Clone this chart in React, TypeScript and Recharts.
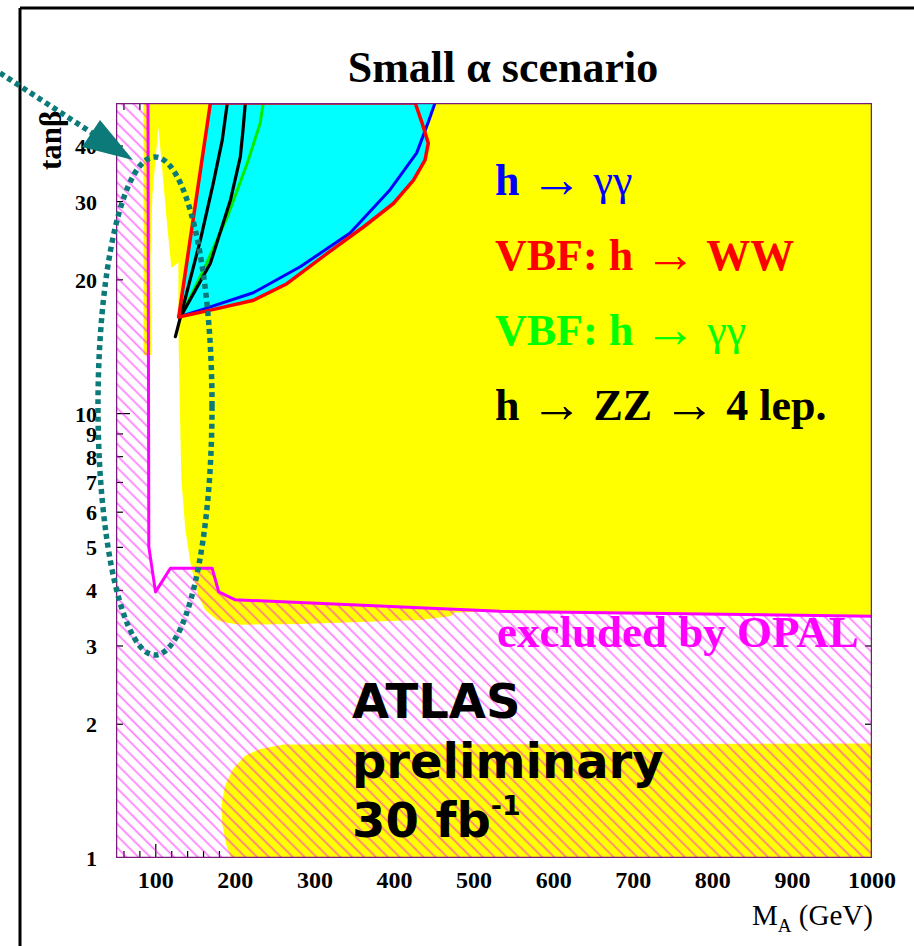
import React from 'react';
import { ScatterChart, Scatter, XAxis, YAxis } from 'recharts';

// every region / contour is a list of [M_A (GeV), tan beta] vertices
type Pt = [number, number];

const massTicks = [100, 200, 300, 400, 500, 600, 700, 800, 900, 1000];
const tanbTicks = [1, 2, 3, 4, 5, 6, 7, 8, 9, 10, 20, 30, 40];

const massMarks = [
  60, 80, 100, 120, 140, 160, 180, 200, 220, 240, 260, 280, 300, 320, 340, 360, 380, 400,
  420, 440, 460, 480, 500, 520, 540, 560, 580, 600, 620, 640, 660, 680, 700, 720, 740, 760,
  780, 800, 820, 840, 860, 880, 900, 920, 940, 960, 980,
];
const tanbMarks = [2, 3, 4, 5, 6, 7, 8, 9, 10, 20, 30, 40];

// yellow: discovery region (upper part)
const yellowMain: Pt[] = [
  [84.5, 50], [1000, 50], [1000, 3.5], [532, 3.59], [476, 3.57], [469.7, 3.5], [432, 3.43],
  [281.5, 3.36], [206.2, 3.35], [187.4, 3.39], [177, 3.43], [162.3, 3.61], [153.5, 3.87],
  [143.5, 4.61], [137.2, 5.47], [132.2, 7.09], [130, 10.73], [128.4, 15.42], [128.4, 21.9],
  [119.6, 21.27], [114.6, 26.2], [103.3, 44.2], [95.8, 31.0], [93.3, 22.2], [94.5, 13.55],
  [84.5, 13.55],
];

// yellow: low tan beta band
const yellowLow: Pt[] = [
  [1000, 1.81], [260.2, 1.8], [231.3, 1.76], [212.5, 1.7], [197.4, 1.59], [187.4, 1.46],
  [182.4, 1.32], [183.6, 1.19], [188.6, 1.07], [194.9, 1.0], [1000, 1.0],
];

// VBF h -> WW contour (red) and the cyan region it encloses
const vbfWW: Pt[] = [
  [128.8, 16.5], [168.6, 50], [426, 50], [434, 45.4], [442.5, 40.6], [438.3, 37.2],
  [423.6, 33.5], [398.6, 29.7], [360.9, 26.3], [315, 22.9], [264.8, 19.6], [222.9, 18.0],
  [168.6, 17.1],
];
const cyanArea: Pt[] = [
  [128.8, 16.5], [168.6, 50], [451, 50], [442.1, 45.1], [438, 43], [442.5, 40.6],
  [438.3, 37.2], [423.6, 33.5], [398.6, 29.7], [360.9, 26.3], [315, 22.9], [264.8, 19.6],
  [222.9, 18.0], [168.6, 17.1],
];

const hGG: Pt[] = [
  [128.4, 16.5], [156, 17.1], [222.5, 18.7], [281.5, 21.4], [344.2, 25.5], [394.4, 31.9],
  [427.9, 38.6], [442.1, 45.1], [450.9, 50],
];
const vbfGG: Pt[] = [[131, 16.5], [159.8, 21.0], [189.9, 27.7], [215, 36.6], [231.3, 45.1], [235, 50]];
const zz4lA: Pt[] = [[124.7, 14.9], [156, 24.6], [172.3, 33.0], [183.6, 41.3], [189.9, 50]];
const zz4lB: Pt[] = [[131, 16.5], [168.6, 21.8], [193.7, 30.2], [206.2, 37.8], [210, 44.2], [212.5, 50]];

// LEP (OPAL) exclusion boundary and the hatched excluded region
const opalLine: Pt[] = [
  [90.2, 50], [91.2, 5.02], [99.6, 3.97], [118.4, 4.49], [170.7, 4.49], [179, 3.97],
  [199.9, 3.81], [532.4, 3.59], [1000, 3.5],
];
const opalArea: Pt[] = [[50, 1], [50, 50], ...opalLine, [1000, 1]];

const frame: Pt[] = [[50, 1], [50, 50], [1000, 50], [1000, 1]];

const rows = (pts: Pt[]) => pts.map(([x, y]) => ({ x, y }));

const tickRows = [
  ...massMarks.map((x) => ({ x, y: 1, dir: 'up', major: x % 100 === 0 })),
  ...massMarks.map((x) => ({ x, y: 50, dir: 'down', major: x % 100 === 0 })),
  ...tanbMarks.map((y) => ({ x: 50, y, dir: 'right', major: y === 10 })),
  ...tanbMarks.map((y) => ({ x: 1000, y, dir: 'left', major: y === 10 })),
];

const SERIF = '"Liberation Serif", "Times New Roman", serif';
const SANS = '"DejaVu Sans", Verdana, sans-serif';
const TEAL = '#0b7a78';

const noSymbol = () => <g />;

const TickMark = (p: any) => {
  const { cx, cy, payload } = p;
  const len = payload.major ? 14 : 7;
  const d: Record<string, [number, number]> = {
    up: [0, -len], down: [0, len], right: [len, 0], left: [-len, 0],
  };
  const [dx, dy] = d[payload.dir];
  return <line x1={cx} y1={cy} x2={cx + dx} y2={cy + dy} stroke="#000" strokeWidth={1.2} />;
};

// draws the scatter points joined as a path, optionally closed and filled
const pathOf = (fill: string, stroke: string, width: number, closed: boolean) => (props: any) => {
  const pts: { x: number; y: number }[] = props.points || [];
  const d =
    pts.map((q, i) => `${i ? 'L' : 'M'}${q.x.toFixed(1)},${q.y.toFixed(1)}`).join(' ') +
    (closed ? ' Z' : '');
  return (
    <path d={d} fill={fill} stroke={stroke} strokeWidth={width} strokeLinejoin="round" strokeLinecap="round" />
  );
};

const XTick = (p: any) => (
  <text x={p.x} y={p.y + 30} textAnchor="middle" fontFamily={SERIF} fontWeight="bold" fontSize={24} fill="#000">
    {p.payload.value}
  </text>
);

const YTick = (p: any) => (
  <text x={p.x - 19} y={p.y + 8} textAnchor="end" fontFamily={SERIF} fontWeight="bold" fontSize={22} fill="#000">
    {p.payload.value}
  </text>
);

const Arrow = () => (
  <tspan fontFamily={SERIF} fontWeight="normal" fontSize={52} dy={2}>→</tspan>
);

export default function App() {
  const region = (pts: Pt[], fill: string, stroke = 'none', width = 0) => (
    <Scatter data={rows(pts)} line={pathOf(fill, stroke, width, true)} shape={noSymbol} isAnimationActive={false} />
  );
  const curve = (pts: Pt[], stroke: string, width: number) => (
    <Scatter data={rows(pts)} line={pathOf('none', stroke, width, false)} shape={noSymbol} isAnimationActive={false} />
  );

  return (
    <div style={{ position: 'absolute', left: 0, top: 0, width: 914, height: 946, background: '#fff' }}>
      <svg width={0} height={0} style={{ position: 'absolute' }}>
        <defs>
          <pattern id="opalHatch" patternUnits="userSpaceOnUse" width={8.4} height={8.4} patternTransform="rotate(-45)">
            <line x1={4.2} y1={-1} x2={4.2} y2={9.4} stroke="#ff00ff" strokeWidth={1.6} strokeOpacity={0.55} />
          </pattern>
        </defs>
      </svg>

      <ScatterChart width={914} height={946} margin={{ top: 103, right: 42, bottom: 58, left: 36 }}>
        <XAxis
          type="number"
          dataKey="x"
          domain={[50, 1000]}
          ticks={massTicks}
          interval={0}
          allowDataOverflow
          axisLine={false}
          tickLine={false}
          tickSize={0}
          tickMargin={0}
          height={30}
          tick={XTick}
        />
        <YAxis
          type="number"
          dataKey="y"
          scale="log"
          domain={[1, 50]}
          ticks={tanbTicks}
          interval={0}
          allowDataOverflow
          axisLine={false}
          tickLine={false}
          tickSize={0}
          tickMargin={0}
          width={80}
          tick={YTick}
        />

        <Scatter data={tickRows} shape={TickMark} isAnimationActive={false} />

        {region(yellowMain, '#ffff00')}
        {region(yellowLow, '#ffff00')}
        {region(cyanArea, '#00ffff')}
        {region(opalArea, 'url(#opalHatch)')}

        {curve(opalLine, '#ff00ff', 3)}
        {curve(hGG, '#0000ff', 3)}
        {curve(vbfGG, '#00ee00', 3)}
        {curve(zz4lA, '#000000', 3.2)}
        {curve(zz4lB, '#000000', 3.2)}
        {region(vbfWW, 'none', '#ff0000', 3.5)}

        {region(frame, 'none', '#7a1a7a', 2.5)}
      </ScatterChart>

      <svg width={914} height={946} style={{ position: 'absolute', left: 0, top: 0, pointerEvents: 'none' }}>
        <line x1={20} y1={8} x2={914} y2={8} stroke="#000" strokeWidth={3} />
        <line x1={20} y1={8} x2={20} y2={946} stroke="#000" strokeWidth={3} />

        <text x={503} y={82} textAnchor="middle" fontFamily={SERIF} fontWeight="bold" fontSize={44}>
          Small α scenario
        </text>

        <g fontFamily={SERIF} fontSize={44}>
          <text x={495} y={195} fill="#0000ff">
            <tspan fontWeight="bold">h </tspan>
            <Arrow />
            <tspan dy={-2}> γγ</tspan>
          </text>
          <text x={495} y={270} fill="#ff0000">
            <tspan fontWeight="bold">VBF: h </tspan>
            <Arrow />
            <tspan fontWeight="bold" dy={-2}> WW</tspan>
          </text>
          <text x={495} y={345} fill="#00ff00">
            <tspan fontWeight="bold">VBF: h </tspan>
            <Arrow />
            <tspan dy={-2}> γγ</tspan>
          </text>
          <text x={495} y={420} fill="#000">
            <tspan fontWeight="bold">h </tspan>
            <Arrow />
            <tspan fontWeight="bold" dy={-2}> ZZ </tspan>
            <Arrow />
            <tspan fontWeight="bold" dy={-2}> 4 lep.</tspan>
          </text>
        </g>

        <text x={497} y={647} fill="#ff00ff" fontFamily={SERIF} fontWeight="bold" fontSize={45}>
          excluded by OPAL
        </text>

        <g fontFamily={SANS} fontWeight="bold" fontSize={48} fill="#000">
          <text x={352} y={718}>ATLAS</text>
          <text x={352} y={778}>preliminary</text>
          <text x={352} y={837}>
            30 fb<tspan fontSize={27} dy={-22}>-1</tspan>
          </text>
        </g>

        <text x={61} y={170} transform="rotate(-90 61 170)" fontFamily={SERIF} fontWeight="bold" fontSize={31}>
          tanβ
        </text>

        <text x={752} y={925} fontFamily={SERIF} fontSize={29}>
          M<tspan fontSize={19} dy={7}>A</tspan>
          <tspan dy={-7}> (GeV)</tspan>
        </text>

        <ellipse cx={155} cy={406} rx={57} ry={249} fill="none" stroke={TEAL} strokeWidth={5.5} strokeDasharray="5 4" />
        <line x1={0} y1={73} x2={92} y2={133} stroke={TEAL} strokeWidth={5.5} strokeDasharray="5 4" />
        <polygon points="100,120 82,147 133,160" fill={TEAL} />
      </svg>
    </div>
  );
}
